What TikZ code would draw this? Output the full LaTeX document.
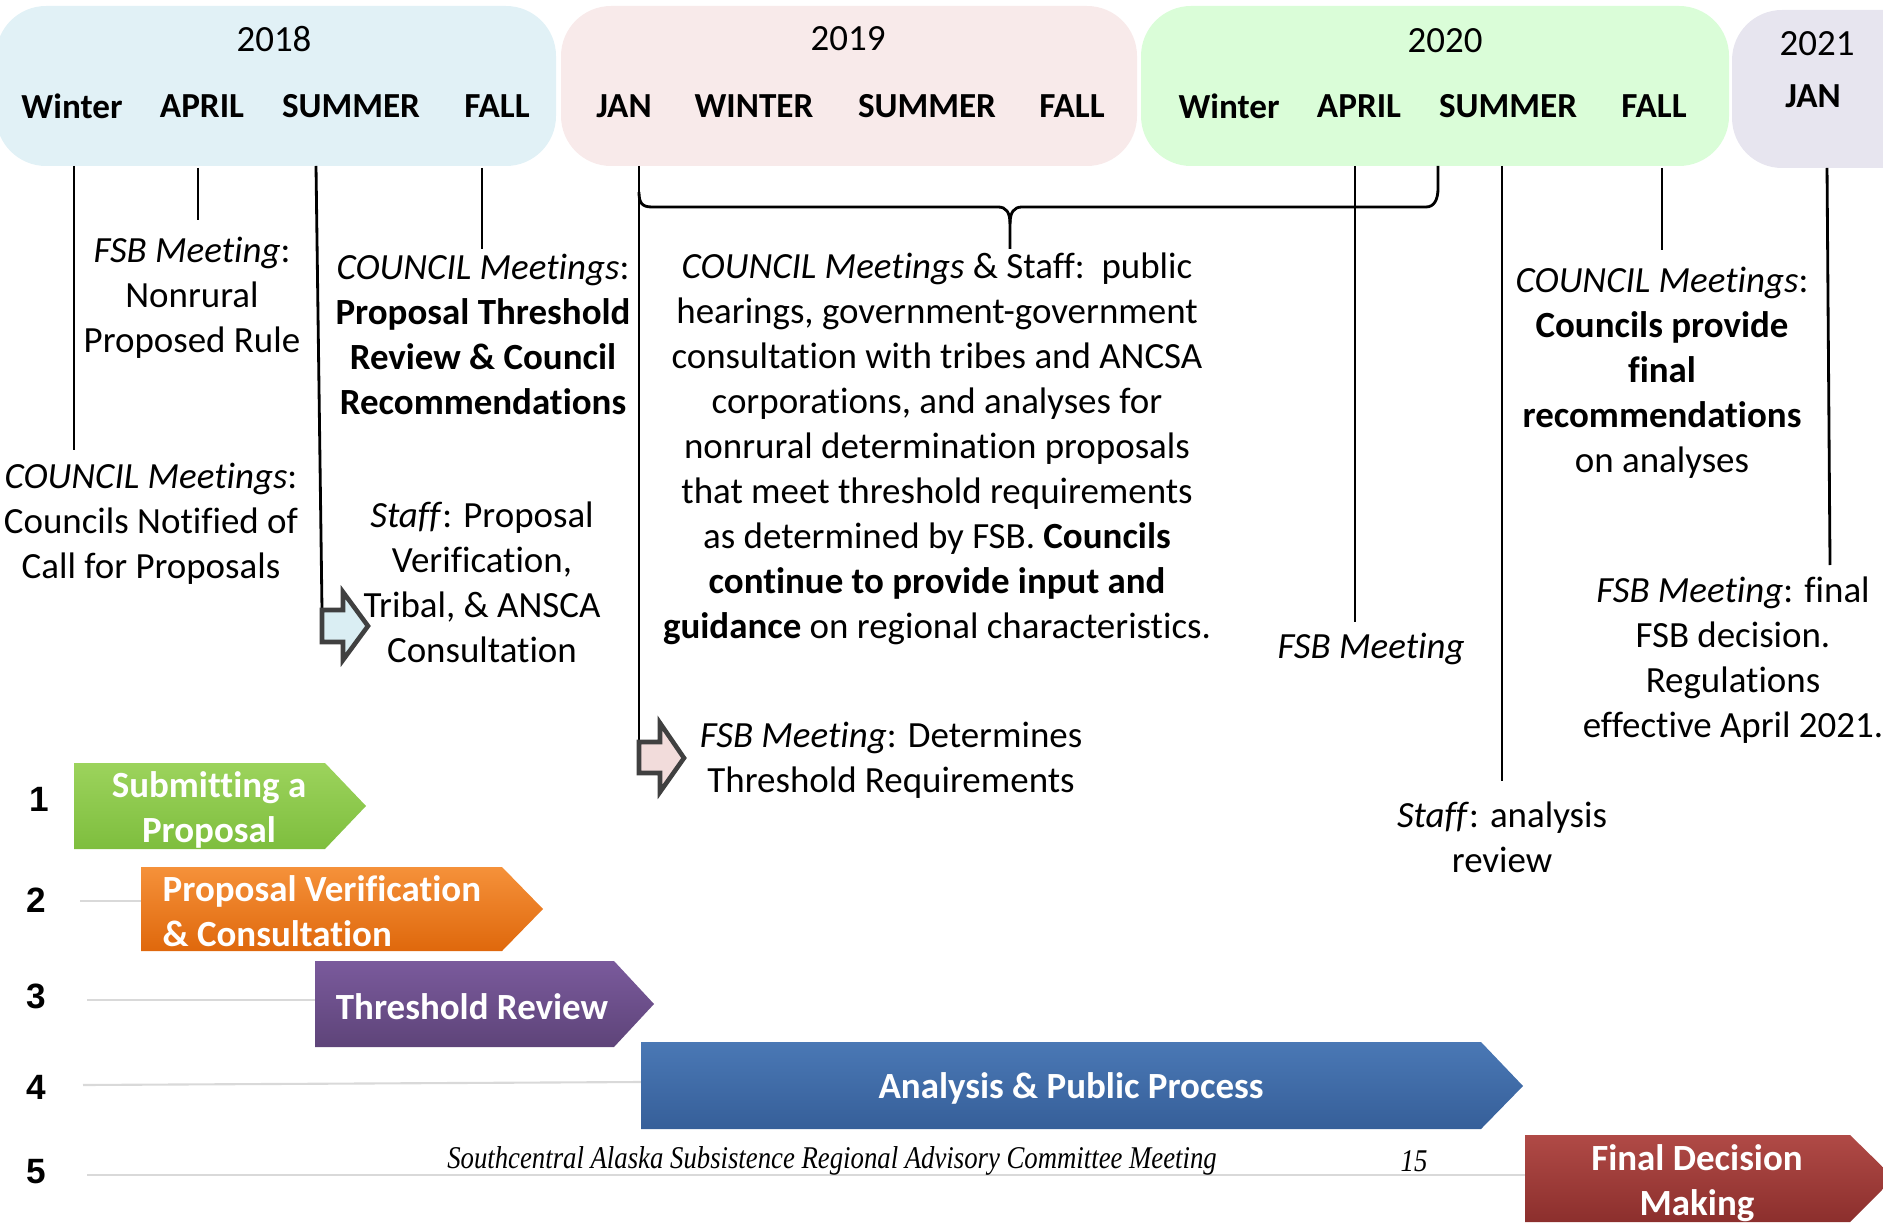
\documentclass[tikz,border=0pt]{standalone}
\usepackage{fontspec}
\setmainfont{Carlito}[Ligatures=NoCommon]
\newfontfamily\numfont{Liberation Sans}
\newfontfamily\footfont{Liberation Serif}
\usepackage{tikz}
\definecolor{hdA}{HTML}{E1F1F6}
\definecolor{hdB}{HTML}{F8EAEA}
\definecolor{hdC}{HTML}{DAFDD8}
\definecolor{hdD}{HTML}{E7E5EF}
\definecolor{gnT}{HTML}{9CD35C}
\definecolor{gnB}{HTML}{7EBE3E}
\definecolor{orT}{HTML}{F5913A}
\definecolor{orB}{HTML}{DF680C}
\definecolor{puT}{HTML}{7A5A9C}
\definecolor{puB}{HTML}{5E4479}
\definecolor{blT}{HTML}{4A78B5}
\definecolor{blB}{HTML}{365F99}
\definecolor{rdT}{HTML}{B04A46}
\definecolor{rdB}{HTML}{8C2F2D}
\definecolor{hlb}{HTML}{DAEEF3}
\definecolor{hlp}{HTML}{F2DCDB}
\definecolor{dk}{HTML}{404040}

\begin{document}
\begin{tikzpicture}[x=0.01cm,y=-0.01cm]
            \tikzstyle{every node}=[font=\fontsize{10.5}{12.8}\selectfont,inner sep=0pt,align=center]
            \tikzstyle{mon}=[font=\fontsize{10}{12}\selectfont\bfseries]
            \tikzstyle{note}=[yshift=-0.04cm]
            \tikzstyle{tick}=[line width=0.8pt]
            \tikzstyle{hollow}=[draw=dk,line width=1.3pt,line join=miter]
            \tikzstyle{rowline}=[draw=black!15,line width=0.6pt]
            \tikzstyle{proc}=[text=white,yshift=-0.035cm,font=\fontsize{10.5}{12.8}\selectfont\bfseries]
            \tikzstyle{num}=[font=\numfont\fontsize{10}{12}\selectfont\bfseries]
            \tikzstyle{foot}=[font=\footfont\itshape\fontsize{9}{11}\selectfont,xscale=0.845]
            \useasboundingbox (0,0) rectangle (1883,1225);
            \clip (0,0) rectangle (1883,1225);
            % year boxes
            \fill[hdA,rounded corners=0.5cm] (-4,6) rectangle (556,166);
            \fill[hdB,rounded corners=0.5cm] (561,6) rectangle (1137,166);
            \fill[hdC,rounded corners=0.5cm] (1141,6) rectangle (1729,166);
            \fill[hdD,rounded corners=0.5cm] (1732,10) rectangle (1940,168);
            \node (y18) at (274,39) {2018};
            \node (y19) at (848,39) {2019};
            \node (y20) at (1445,41) {2020};
            \node (y21) at (1817,44) {2021};
            \node[mon] (m18a) at (72,106) {Winter};
            \node[mon] (m18b) at (202,106) {APRIL};
            \node[mon] (m18c) at (351,106) {SUMMER};
            \node[mon] (m18d) at (497,106) {FALL};
            \node[mon] (m19a) at (624,106) {JAN};
            \node[mon] (m19b) at (754,106) {WINTER};
            \node[mon] (m19c) at (927,106) {SUMMER};
            \node[mon] (m19d) at (1072,106) {FALL};
            \node[mon] (m20a) at (1229,106) {Winter};
            \node[mon] (m20b) at (1359,106) {APRIL};
            \node[mon] (m20c) at (1508,106) {SUMMER};
            \node[mon] (m20d) at (1654,106) {FALL};
            \node[mon] (m21a) at (1813,96) {JAN};
            % ticks below the months
            \foreach \n/\xa/\ya/\xb/\yb in {1/74/166/74/450,2/198/168/198/220,3/316/166/322/610,
                4/482/168/482/249,5/639/166/639/742,6/1355/166/1355/622,7/1502/166/1502/781,
                8/1662/168/1662/250,9/1827/168/1830/565}
              \draw[tick] (\xa,\ya) coordinate (t\n) -- (\xb,\yb) coordinate (b\n);
            \draw[tick] (639,192) .. controls (639,203) and (642,207) .. (652,207) -- (998,207)
              .. controls (1006,207) and (1010,212) .. (1010,224) coordinate (brc) -- (1010,249);
            \draw[tick] (brc) .. controls (1010,212) and (1014,207) .. (1022,207) -- (1426,207)
              .. controls (1434,207) and (1438,200) .. (1438,188) -- (1438,166);
            % hollow arrows
            \filldraw[hollow,fill=hlb] (b3) -- (343,610) -- (343,592) -- (368,626) -- (343,660) -- (343,642) -- (322,642) -- cycle;
            \filldraw[hollow,fill=hlp] (b5) -- (660,742) -- (660,723) -- (684,758) -- (660,792) -- (660,773) -- (639,773) -- cycle;
            % notes
            \node[note] (fsb18) at (192,294) {\textit{FSB Meeting}:\\Nonrural\\Proposed Rule};
            \node[note] (cn18w) at (151,520) {\textit{COUNCIL Meetings}:\\Councils Notified of\\Call for Proposals};
            \node[note] (cn18f) at (483,330) {\textit{COUNCIL Meetings}:\\\textbf{Proposal Threshold}\\\textbf{Review \& Council}\\\textbf{Recommendations}};
            \node[note] (stf18) at (482,578) {\textit{Staff}: Proposal\\Verification,\\Tribal, \& ANSCA\\Consultation};
            \node[note] (pub19) at (937,445) {\textit{COUNCIL Meetings} \& Staff:\ \ public\\hearings, government-government\\consultation with tribes and ANCSA\\corporations, and analyses for\\nonrural determination proposals\\that meet threshold requirements\\as determined by FSB. \textbf{Councils}\\\textbf{continue to provide input and}\\\textbf{guidance} on regional characteristics.};
            \node[note] (fsb19) at (891,756) {\textit{FSB Meeting}: Determines\\Threshold Requirements};
            \node[note] (fsb20) at (1371,645) {\textit{FSB Meeting}};
            \node[note] (cn20) at (1662,369) {\textit{COUNCIL Meetings}:\\\textbf{Councils provide}\\\textbf{final}\\\textbf{recommendations}\\on analyses};
            \node[note] (stf20) at (1502,833) {\textit{Staff}: analysis\\review};
            \node[note] (fsb21) at (1733,656) {\textit{FSB Meeting}: final\\FSB decision.\\Regulations\\effective April 2021.};
            % process rows
            \node[num] (n1) at (39,799) {1};
            \node[num] (n2) at (36,900) {2};
            \node[num] (n3) at (36,996) {3};
            \node[num] (n4) at (36,1087) {4};
            \node[num] (n5) at (36,1172) {5};
            \draw[rowline] (80,901) -- (141,901);
            \draw[rowline] (87,1000) -- (315,1000);
            \draw[rowline] (83,1085) -- (641,1082);
            \draw[rowline] (87,1175) -- (1525,1175);
            \shade[top color=gnT,bottom color=gnB] (74,763) -- (325,763) -- (366,806) -- (325,849) -- (74,849) -- cycle;
            \shade[top color=orT,bottom color=orB] (141,867) -- (502,867) -- (543,909) -- (502,951) -- (141,951) -- cycle;
            \shade[top color=puT,bottom color=puB] (315,961) -- (614,961) -- (654,1004) -- (614,1047) -- (315,1047) -- cycle;
            \shade[top color=blT,bottom color=blB] (641,1042) -- (1481,1042) -- (1523,1086) -- (1481,1129) -- (641,1129) -- cycle;
            \shade[top color=rdT,bottom color=rdB] (1525,1135) -- (1850,1135) -- (1894,1178) -- (1850,1222) -- (1525,1222) -- cycle;
            \node[proc] (p1) at (209,806) {Submitting a\\Proposal};
            \node[proc,anchor=west,align=left] (p2) at (162,908) {Proposal Verification\\\& Consultation};
            \node[proc] (p3) at (472,1003) {Threshold Review};
            \node[proc] (p4) at (1071,1085) {Analysis \& Public Process};
            \node[proc] (p5) at (1697,1180) {Final Decision\\Making};
            % footer
            \node[foot] (ft) at (832,1161) {Southcentral Alaska Subsistence Regional Advisory Committee Meeting};
            \node[foot] (pg) at (1414,1161) {15};
          \end{tikzpicture}
\end{document}
